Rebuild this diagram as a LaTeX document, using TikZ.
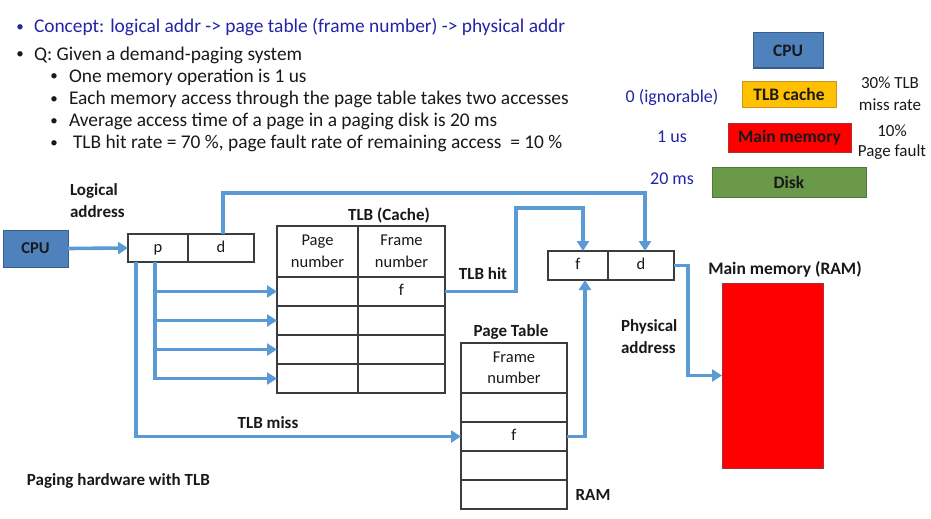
\documentclass[tikz,border=0pt]{standalone}
\usepackage{fontspec}
\setmainfont{Carlito}
\usetikzlibrary{arrows.meta}
\definecolor{flowblue}{RGB}{91,155,213}
\definecolor{cpublue}{RGB}{79,129,189}
\definecolor{cpuborder}{RGB}{56,93,138}
\definecolor{navy}{RGB}{36,36,168}
\definecolor{tlborange}{RGB}{255,192,0}
\definecolor{tlbborder}{RGB}{200,150,40}
\definecolor{diskgreen}{RGB}{106,153,74}
\definecolor{diskborder}{RGB}{80,120,60}
\definecolor{memred}{RGB}{255,0,0}
\definecolor{memborder}{RGB}{170,50,50}
\definecolor{gridgray}{RGB}{60,60,60}
\definecolor{txt}{RGB}{25,25,25}
\begin{document}
\begin{tikzpicture}[x=1pt,y=-1pt,
  every node/.style={inner sep=0pt, outer sep=0pt, text=txt},
  cell/.style={draw=gridgray, line width=1.1pt, anchor=north west, font=\fontsize{16.5}{21.5}\selectfont, align=center},
  onel/.style={text height=12pt, text depth=4pt},
  flow/.style={draw=flowblue, line width=3.6pt, -{Triangle[length=10pt,width=12pt]}},
  lbl/.style={font=\bfseries\fontsize{17}{22}\selectfont, align=left},
  bodytxt/.style={anchor=base west, font=\fontsize{19.4}{22}\selectfont},
  bullet/.style={anchor=base, font=\fontsize{15}{15}\selectfont},
  legtxt/.style={font=\fontsize{17}{22}\selectfont, align=center},
  legbox/.style={anchor=north west, line width=1pt, font=\bfseries\fontsize{17.5}{19}\selectfont}
]
\useasboundingbox (0,0) rectangle (931,519);
\fill[white] (0,0) rectangle (931,519);

% ---- top text ----
\node[bullet, text=navy] (b1) at (20,32) {•};
\node[bodytxt, text=navy] (t1) at (34,33) {Concept: logical addr -> page table (frame number) -> physical addr};
\node[bullet] (b2) at (20,59) {•};
\node[bodytxt] (t2) at (34,60) {Q: Given a demand-paging system};
\node[bullet] (b3) at (54,81) {•};
\node[bodytxt] (t3) at (69,82) {One memory operation is 1 us};
\node[bullet] (b4) at (54,103) {•};
\node[bodytxt] (t4) at (69,104) {Each memory access through the page table takes two accesses};
\node[bullet] (b5) at (54,125) {•};
\node[bodytxt] (t5) at (69,126) {Average access time of a page in a paging disk is 20 ms};
\node[bullet] (b6) at (54,147) {•};
\node[bodytxt] (t6) at (73,148) {TLB hit rate = 70 \%, page fault rate of remaining access\ \ = 10 \%};

% ---- legend ----
\node[legbox, fill=cpublue, draw=cpuborder, minimum width=70, minimum height=35] (lcpu) at (753,33) {CPU};
\node[legbox, fill=tlborange, draw=tlbborder, minimum width=94, minimum height=26] (ltlb) at (742,81) {TLB cache};
\node[legbox, fill=memred, draw=memborder, minimum width=123, minimum height=29] (lmem) at (728,123) {Main memory};
\node[legbox, fill=diskgreen, draw=diskborder, minimum width=154, minimum height=30] (ldisk) at (712,167) {Disk};
\node[legtxt, text=navy, font=\fontsize{18}{22}\selectfont] (c0) at (672,97) {0 (ignorable)};
\node[legtxt, text=navy, font=\fontsize{18}{22}\selectfont] (c1) at (672,137) {1 us};
\node[legtxt, text=navy, font=\fontsize{18}{22}\selectfont] (c2) at (672,179) {20 ms};
\node[legtxt] (r1) at (890,94) {30\% TLB\\miss rate};
\node[legtxt, font=\fontsize{17}{20}\selectfont] (r2) at (892,142) {10\%\\Page fault};

% ---- left CPU and logical address ----
\node[legbox, fill=cpublue, draw=cpuborder, minimum width=65, minimum height=37, font=\bfseries\fontsize{16.5}{19}\selectfont] (cpu) at (3,230) {CPU};
\node[lbl, anchor=west] (lla) at (70,201) {Logical\\address};
\node[cell, onel, minimum width=60, minimum height=28] (p) at (128,234) {p};
\node[cell, onel, minimum width=66, minimum height=28] (d) at (188,234) {d};

% ---- TLB ----
\node[lbl, anchor=center] (tlbt) at (389,215) {TLB (Cache)};
\node[cell, minimum width=81, minimum height=51] (th1) at (277,226) {Page\\number};
\node[cell, minimum width=87, minimum height=51] (th2) at (358,226) {Frame\\number};
\node[cell, onel, minimum width=81, minimum height=29] (tp1) at (277,277) {};
\node[cell, onel, minimum width=87, minimum height=29] (tf1) at (358,277) {f};
\node[cell, onel, minimum width=81, minimum height=29] (tp2) at (277,306) {};
\node[cell, onel, minimum width=87, minimum height=29] (tf2) at (358,306) {};
\node[cell, onel, minimum width=81, minimum height=29] (tp3) at (277,335) {};
\node[cell, onel, minimum width=87, minimum height=29] (tf3) at (358,335) {};
\node[cell, onel, minimum width=81, minimum height=29] (tp4) at (277,364) {};
\node[cell, onel, minimum width=87, minimum height=29] (tf4) at (358,364) {};

% ---- Page table ----
\node[lbl, anchor=center] (ptt) at (511,332) {Page Table};
\node[cell, minimum width=106, minimum height=50] (pth) at (461,343) {Frame\\number};
\node[cell, onel, minimum width=106, minimum height=29] (pt1) at (461,393) {};
\node[cell, onel, minimum width=106, minimum height=29] (ptf) at (461,422) {f};
\node[cell, onel, minimum width=106, minimum height=29] (pt3) at (461,451) {};
\node[cell, onel, minimum width=106, minimum height=29] (pt4) at (461,480) {};
\node[lbl, anchor=center] (ram) at (593,495) {RAM};

% ---- physical address ----
\node[cell, onel, minimum width=60, minimum height=29] (pf) at (548,251) {f};
\node[cell, onel, minimum width=66, minimum height=29] (pd) at (608,251) {d};
\node[lbl, anchor=west] (phl) at (621,337) {Physical\\address};

% ---- main memory ----
\node[lbl, anchor=center, font=\bfseries\fontsize{17.5}{22}\selectfont] (mmt) at (785,269) {Main memory (RAM)};
\node[anchor=north west, fill=memred, draw=memborder, line width=1pt, minimum width=101, minimum height=185] (mm) at (722,283) {};

\node[lbl, anchor=west] (cap) at (27,481) {Paging hardware with TLB};

% ---- connectors ----
\coordinate (dtop) at (0,193);
\coordinate (hitc) at (516,208);
\coordinate (physc) at (688,0);
\coordinate (pv) at ([xshift=27]p.south west);
\coordinate (pm) at ([xshift=8]p.south west);

\draw[flow] (cpu.east) -- (p.west);
\draw[flow] ([xshift=2]d.north) -- ([xshift=2]d.north |- dtop) -| ([xshift=4]pd.north);
\draw[flow] (pv) |- (tp1.west);
\draw[flow] (pv) |- (tp2.west);
\draw[flow] (pv) |- (tp3.west);
\draw[flow] (pv) |- (tp4.west);
\draw[flow] (pm) |- (ptf.west);
\draw[flow] (tf1.east) -| (hitc) -| ([xshift=5]pf.north);
\node[lbl, anchor=center] (hitl) at (483,274) {TLB hit};
\node[lbl, anchor=center] (missl) at (268,423) {TLB miss};
\draw[flow] (ptf.east) -| ([xshift=7]pf.south);
\draw[flow] (pd.east) -| (physc |- mm.west) -- (mm.west);
\end{tikzpicture}
\end{document}
